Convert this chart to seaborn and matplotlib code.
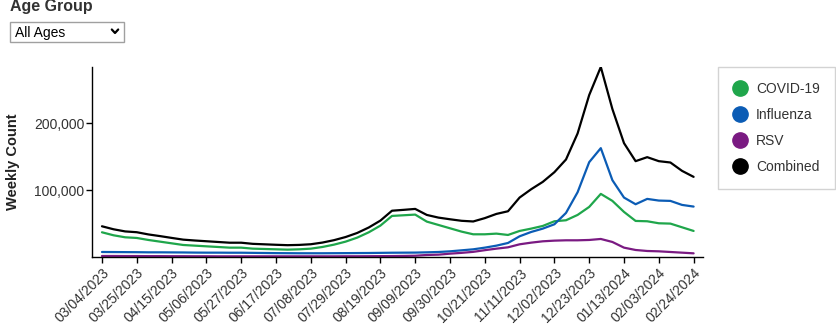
import matplotlib
matplotlib.use("Agg")
import matplotlib.pyplot as plt
from matplotlib.lines import Line2D
from matplotlib.patches import Rectangle
import pandas as pd
import seaborn as sns

# Weekly counts, week ending 03/04/2023 through 02/24/2024
week_start = "2023-03-04"
covid = [37000, 32500, 29500, 28500, 25500, 23000, 20500, 18000, 17000, 16000,
         15000, 14000, 14000, 12500, 12000, 11500, 11000, 11500, 12500, 15000,
         18500, 23000, 29000, 37000, 47000, 61500, 62500, 63500, 53000, 48000,
         43000, 38000, 34000, 34000, 35000, 33000, 39000, 42500, 46500, 53500,
         55000, 63000, 75000, 94500, 84000, 67500, 54000, 53500, 50500, 50000,
         44500, 39000]
influenza = [7500, 7400, 7300, 7200, 7000, 7000, 6900, 6800, 6600, 6500,
             6500, 6400, 6400, 6200, 6000, 5800, 5700, 5600, 5600, 5600,
             5700, 5800, 5900, 6000, 6200, 6400, 6500, 6600, 7000, 7500,
             8500, 10000, 11500, 14000, 17000, 21000, 31000, 37500, 42500, 49000,
             66000, 97000, 142000, 163000, 115000, 89000, 79000, 87000, 84500, 84000,
             78000, 75500]
rsv = [1500, 1500, 1400, 1400, 1300, 1300, 1200, 1200, 1100, 1100,
       1000, 1000, 1000, 1000, 1000, 1000, 1000, 1000, 1000, 1000,
       1000, 1100, 1100, 1200, 1300, 1400, 1600, 1900, 3000, 3500,
       5000, 6200, 7700, 10200, 12500, 14500, 19000, 21500, 23500, 24500,
       25000, 25000, 25500, 27000, 22500, 14000, 10500, 9000, 8500, 7500,
       6500, 5500]
combined = [46000, 41500, 38300, 37100, 33800, 31300, 28600, 26000, 24700, 23600,
            22500, 21400, 21400, 19700, 19000, 18300, 17700, 18100, 19100, 21600,
            25200, 29900, 36000, 44200, 54500, 69300, 70600, 72000, 63000, 59000,
            56500, 54200, 53200, 58200, 64500, 68500, 89000, 101500, 112500, 127000,
            146000, 185000, 242500, 284500, 221500, 170500, 143500, 149500, 143500, 141500,
            129000, 120000]

series_names = ["COVID-19", "Influenza", "RSV", "Combined"]
series_colors = ["#1fa64b", "#0b5cb5", "#7a1a82", "#000000"]

tick_labels = ["03/04/2023", "03/25/2023", "04/15/2023", "05/06/2023", "05/27/2023",
               "06/17/2023", "07/08/2023", "07/29/2023", "08/19/2023", "09/09/2023",
               "09/30/2023", "10/21/2023", "11/11/2023", "12/02/2023", "12/23/2023",
               "01/13/2024", "02/03/2024", "02/24/2024"]
y_ticks = [100000, 200000]

dates = pd.date_range(week_start, periods=len(covid), freq="7D")
df = pd.DataFrame({"date": dates, "COVID-19": covid, "Influenza": influenza,
                   "RSV": rsv, "Combined": combined})
long = df.melt(id_vars="date", var_name="series", value_name="count")

sns.set_style("white")
plt.rcParams["font.family"] = ["Liberation Sans", "DejaVu Sans"]

W, H = 837, 333
fig = plt.figure(figsize=(W / 100, H / 100), dpi=100)


def fx(px):
    return px / W


def fy(py):
    return 1 - py / H


AX_L, AX_R, AX_T, AX_B = 92, 703, 67, 257
ax = fig.add_axes([fx(AX_L), fy(AX_B), fx(AX_R) - fx(AX_L), fy(AX_T) - fy(AX_B)])

sns.lineplot(data=long, x="date", y="count", hue="series",
             hue_order=series_names, palette=series_colors,
             linewidth=1.6, legend=False, ax=ax)

week = pd.Timedelta(days=7)
ax.set_xlim(dates[0] - 0.86 * week, dates[-1] + 0.81 * week)
ax.set_ylim(0, max(combined))

tick_dates = [pd.to_datetime(t, format="%m/%d/%Y") for t in tick_labels]
ax.set_xticks(tick_dates)
ax.set_xticklabels(tick_labels, rotation=45, ha="right", rotation_mode="anchor",
                   fontsize=10, color="#333333")
ax.set_yticks(y_ticks)
ax.set_yticklabels([f"{v:,}" for v in y_ticks], fontsize=10, color="#333333")
ax.tick_params(axis="both", which="major", length=4.5, width=1, color="#000000",
               direction="out", bottom=True, left=True)
ax.tick_params(axis="x", pad=2)
ax.tick_params(axis="y", pad=1)

for side in ["top", "right"]:
    ax.spines[side].set_visible(False)
for side in ["left", "bottom"]:
    ax.spines[side].set_color("#000000")
    ax.spines[side].set_linewidth(1)

ax.set_xlabel("")
ax.set_ylabel("Weekly Count", fontsize=10.5, fontweight="bold", color="#222222")
ax.yaxis.set_label_coords(-(AX_L - 20) / (AX_R - AX_L), 0.5)

# Legend with filled circle markers
handles = [Line2D([0], [0], marker="o", linestyle="none", markersize=11,
                  markerfacecolor=c, markeredgecolor=c) for c in series_colors]
leg = ax.legend(handles, series_names, loc="upper left",
                bbox_to_anchor=(fx(718), fy(67)), bbox_transform=fig.transFigure,
                frameon=True, fancybox=False, fontsize=10, borderpad=1.1,
                labelspacing=0.85, handlelength=1.0, handletextpad=0.65,
                borderaxespad=0)
leg.get_frame().set_edgecolor("#c8c8c8")
leg.get_frame().set_linewidth(1)
for t in leg.get_texts():
    t.set_color("#333333")

# Header and age group selector
fig.text(fx(10), fy(11.5), "Age Group", fontsize=11.5, fontweight="bold",
         color="#333333", ha="left", va="baseline")
fig.add_artist(Rectangle((fx(10.5), fy(41.5)), fx(114), fy(21.5) - fy(41.5),
                         transform=fig.transFigure, facecolor="white",
                         edgecolor="#a0a0a0", linewidth=1))
fig.text(fx(15), fy(36.5), "All Ages", fontsize=10, color="#000000",
         ha="left", va="baseline")
fig.add_artist(Line2D([fx(111.8), fx(115), fx(118.2)], [fy(29.5), fy(33), fy(29.5)],
                      transform=fig.transFigure, color="#000000", linewidth=1.6))

fig.savefig("out.png", dpi=100)
